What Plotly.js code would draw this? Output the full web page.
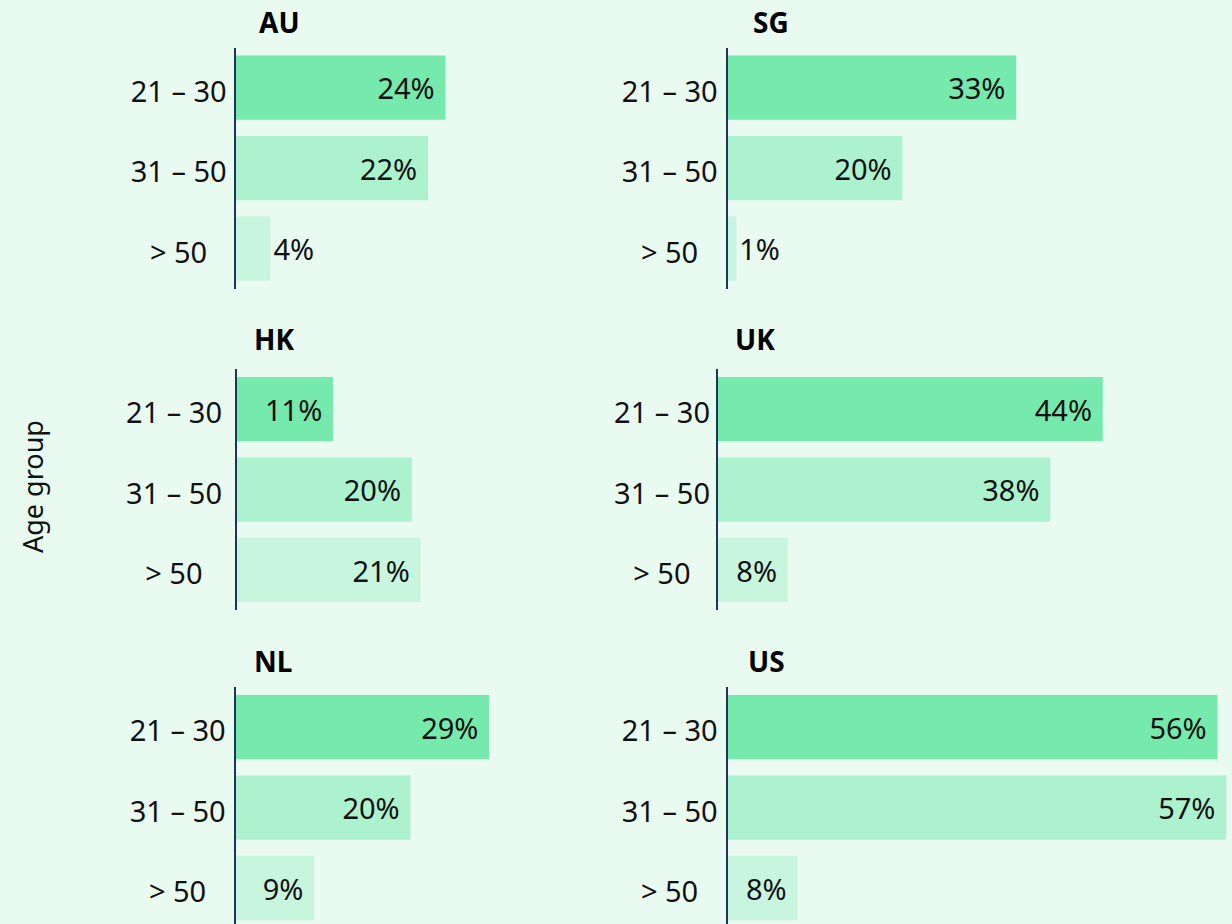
<!DOCTYPE html>
<html>
<head>
<meta charset="utf-8">
<script src="https://cdn.plot.ly/plotly-3.0.1.min.js"></script>
<style>
  html, body { margin: 0; padding: 0; background: #E9FAF1; }
  #chart { width: 1232px; height: 924px; }
</style>
</head>
<body>
<div id="chart"></div>
<script>
// ---- Data ----
const ageGroups = ['21 – 30', '31 – 50', '> 50'];
const countries = ['AU', 'SG', 'HK', 'UK', 'NL', 'US'];
const AU = [24, 22, 4];
const SG = [33, 20, 1];
const HK = [11, 20, 21];
const UK = [44, 38, 8];
const NL = [29, 20, 9];
const US = [56, 57, 8];
const yAxisTitle = 'Age group';

// ---- Style / layout constants ----
const W = 1232, H = 924;
const FONT = 'Noto Sans, Open Sans, sans-serif';
const barColors = ['#76E9AC', '#ADF2CE', '#C8F5DE'];
const bg = '#E9FAF1';
const axisColor = '#1C355E';
const pxPerPct = 8.75;
const catPx = 80.4;
const FS = 29;

// panel geometry in pixels
const panels = [
  {x0: 235.5, xEnd: 700,  y0: 47.5, y1: 288.5, tx: 257,   ty: 22,  standoff: 1},
  {x0: 727.5, xEnd: 1232, y0: 47.5, y1: 288.5, tx: 750.5, ty: 22,  standoff: 2},
  {x0: 236.8, xEnd: 700,  y0: 369,  y1: 610,   tx: 251.5, ty: 339, standoff: 7},
  {x0: 717.8, xEnd: 1232, y0: 369,  y1: 610,   tx: 733,   ty: 339, standoff: 0},
  {x0: 235.5, xEnd: 700,  y0: 687,  y1: 924,   tx: 251.5, ty: 661, standoff: 2},
  {x0: 727.5, xEnd: 1232, y0: 687,  y1: 924,   tx: 745.5, ty: 661, standoff: 2}
];
const seriesList = [AU, SG, HK, UK, NL, US];

// centre the tick labels by padding shorter ones
const tickText = ageGroups.map(g => g.startsWith('>') ? g + '\u2007\u200A' : g);

const px2x = p => p / W;
const px2y = p => 1 - p / H;

const traces = [];
const layout = {
  width: W, height: H,
  paper_bgcolor: bg, plot_bgcolor: 'rgba(0,0,0,0)',
  margin: {l: 0, r: 0, t: 0, b: 0, pad: 0},
  showlegend: false,
  font: {family: FONT, size: FS, color: '#111111'},
  annotations: [],
  bargap: 0.2
};

seriesList.forEach((vals, i) => {
  const p = panels[i];
  const n = i + 1;
  const xa = n === 1 ? 'x' : 'x' + n;
  const ya = n === 1 ? 'y' : 'y' + n;
  traces.push({
    type: 'bar',
    orientation: 'h',
    x: vals,
    y: ageGroups,
    xaxis: xa, yaxis: ya,
    marker: {color: barColors, line: {width: 0}},
    text: vals.map(v => v + '%\u2008'),
    textposition: 'auto',
    insidetextanchor: 'end',
    constraintext: 'none',
    textfont: {family: FONT, size: FS, color: '#111111'},
    insidetextfont: {family: FONT, size: FS, color: '#111111'},
    outsidetextfont: {family: FONT, size: FS, color: '#111111'},
    cliponaxis: false,
    hoverinfo: 'none'
  });
  const span = (p.y1 - p.y0) / catPx;
  layout[n === 1 ? 'xaxis' : 'xaxis' + n] = {
    domain: [px2x(p.x0), px2x(p.xEnd)],
    range: [0, (p.xEnd - p.x0) / pxPerPct],
    anchor: ya,
    visible: false,
    fixedrange: true
  };
  layout[n === 1 ? 'yaxis' : 'yaxis' + n] = {
    domain: [px2y(p.y1), px2y(p.y0)],
    anchor: xa,
    type: 'category',
    categoryorder: 'array',
    categoryarray: ageGroups,
    tickvals: ageGroups,
    ticktext: tickText,
    range: [span - 0.5, -0.5],
    showline: true,
    linecolor: axisColor,
    linewidth: 2,
    showgrid: false,
    zeroline: false,
    ticks: '',
    ticklabelstandoff: p.standoff,
    ticklabelshift: -4,
    tickfont: {family: FONT, size: FS, color: '#111111'},
    fixedrange: true
  };
  layout.annotations.push({
    text: '<b>' + countries[i] + '</b>',
    xref: 'paper', yref: 'paper',
    x: px2x(p.tx), y: px2y(p.ty),
    xanchor: 'left', yanchor: 'middle',
    showarrow: false,
    font: {family: FONT, size: 28, color: '#000000'}
  });
});

layout.annotations.push({
  text: yAxisTitle,
  xref: 'paper', yref: 'paper',
  x: px2x(32), y: px2y(487),
  xanchor: 'center', yanchor: 'middle',
  textangle: -90,
  showarrow: false,
  font: {family: FONT, size: 27, color: '#111111'}
});

Plotly.newPlot('chart', traces, layout, {displayModeBar: false, staticPlot: true});
</script>
</body>
</html>
